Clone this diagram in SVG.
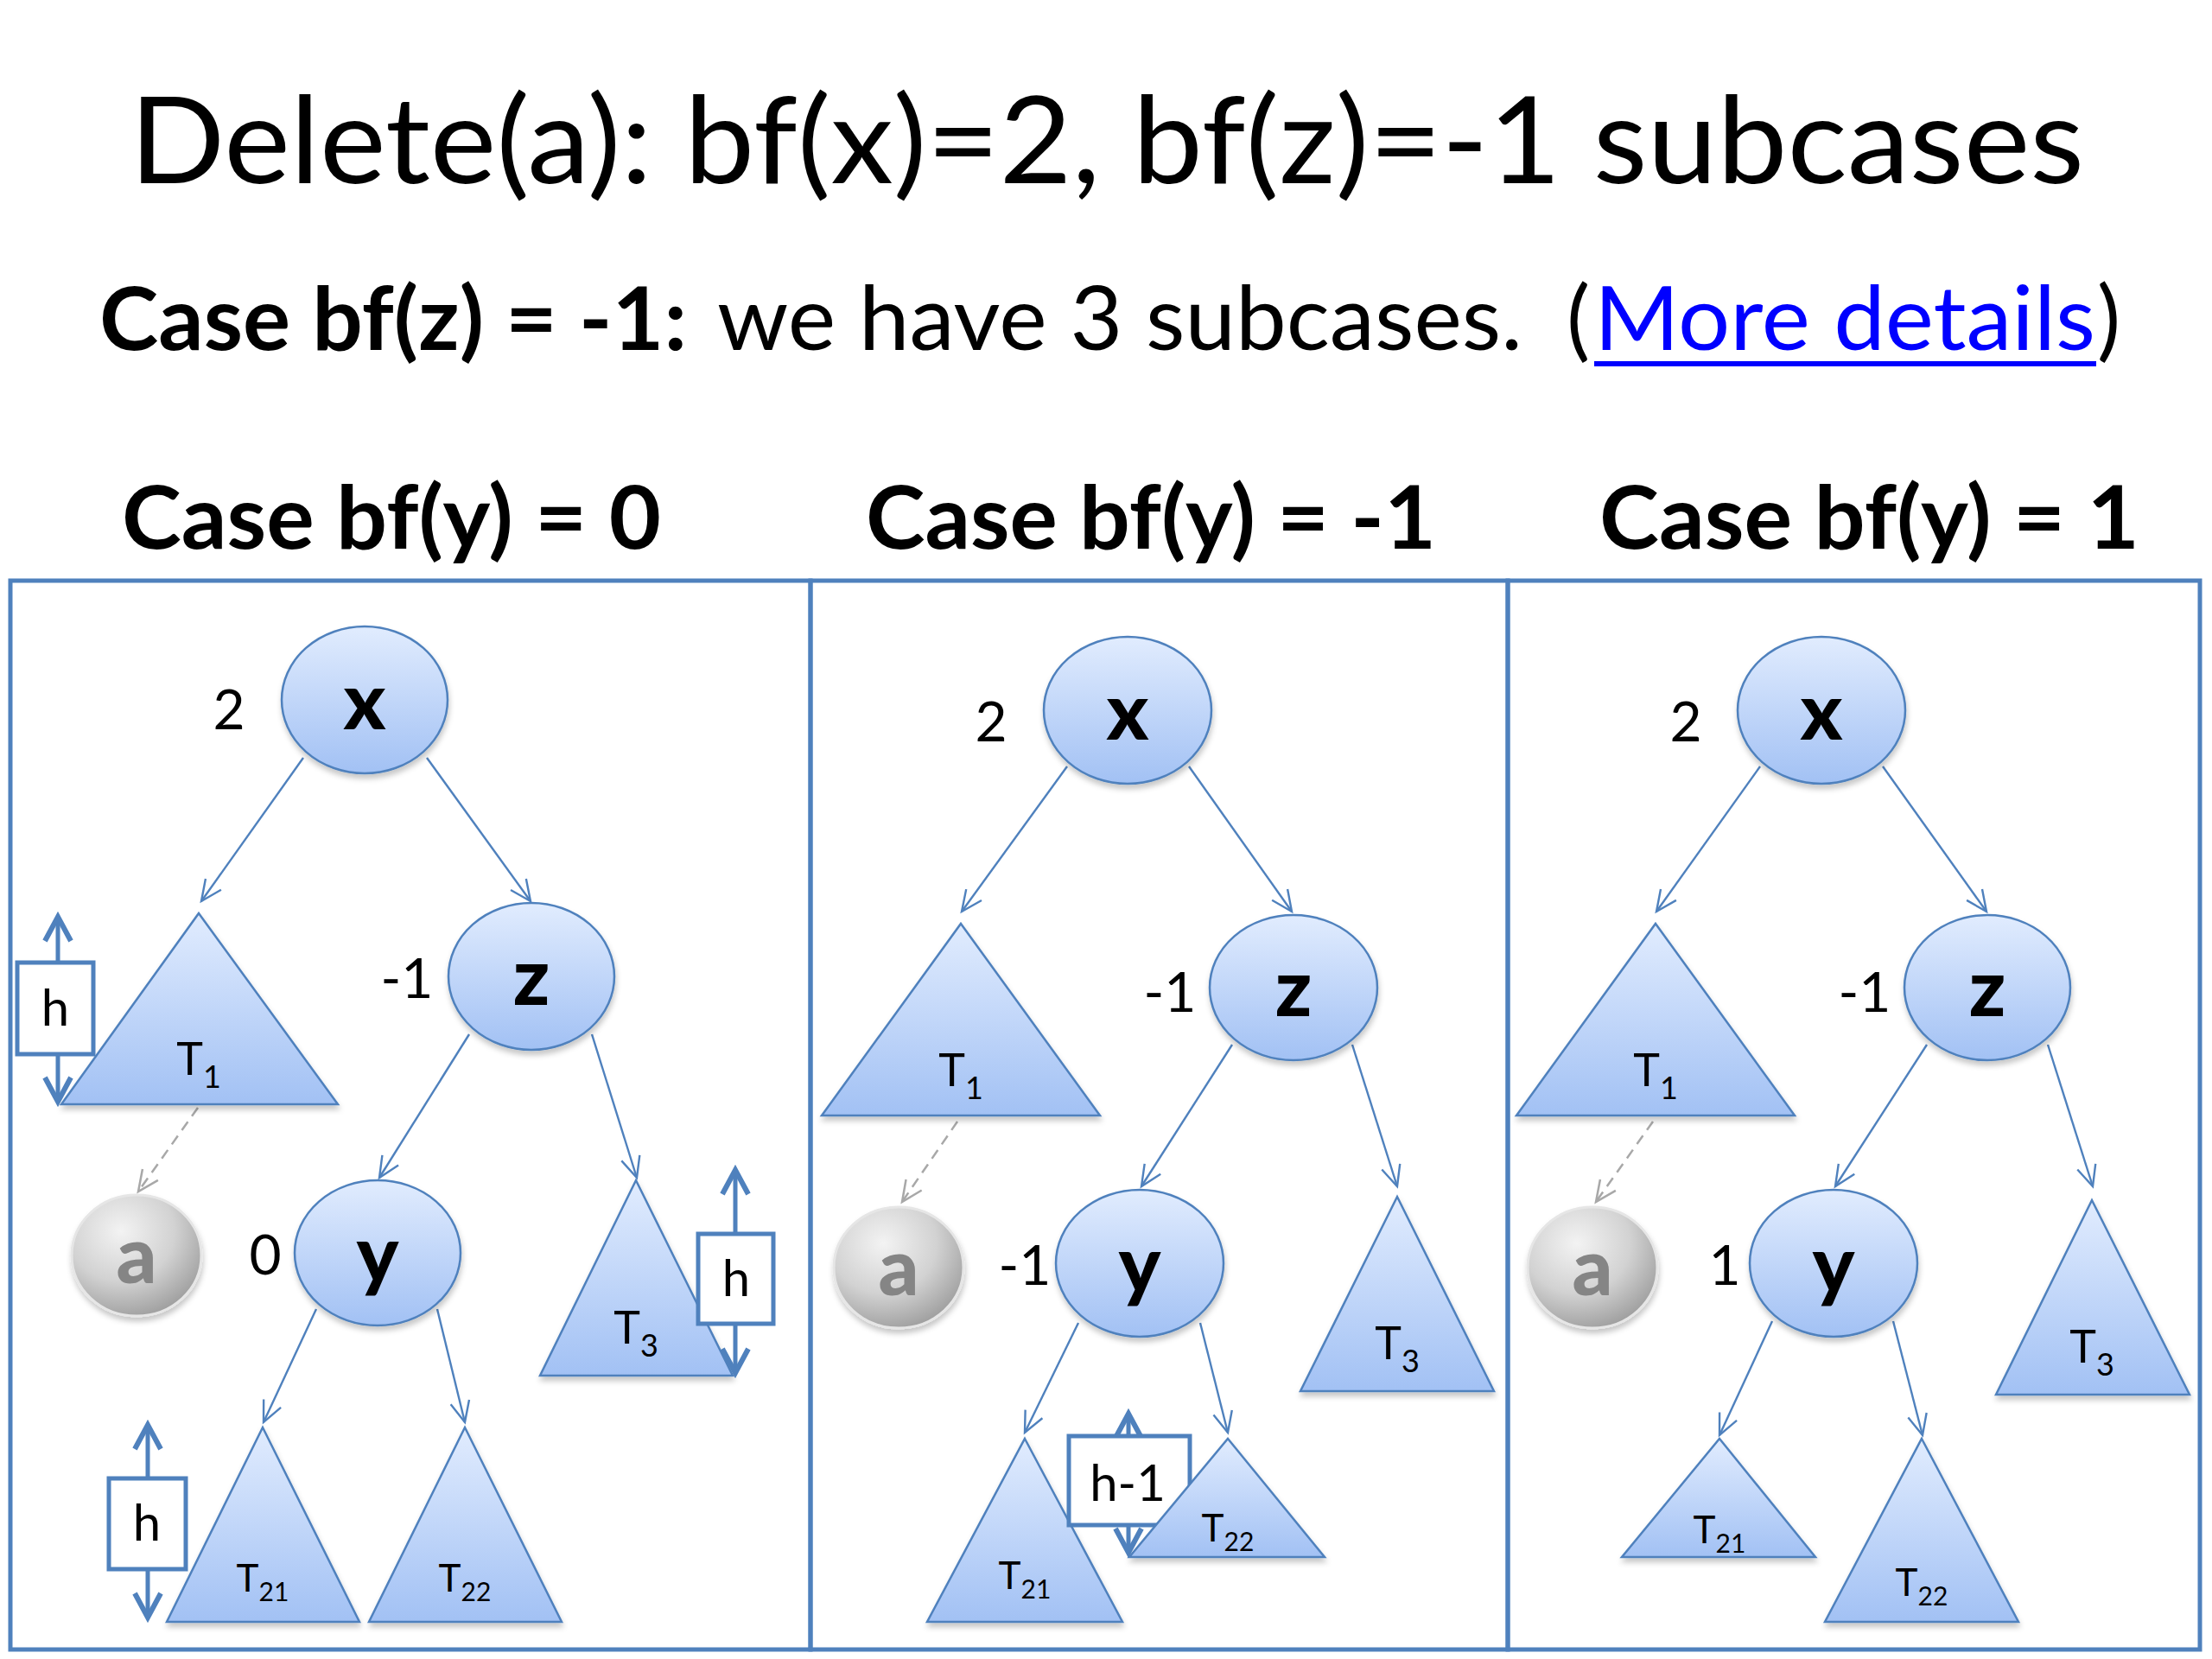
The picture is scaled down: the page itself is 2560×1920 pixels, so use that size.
<svg xmlns="http://www.w3.org/2000/svg" width="2560" height="1920" viewBox="0 0 2560 1920">
<defs>
<style>
text { font-family: Lato, "Open Sans", "Liberation Sans", sans-serif; fill: #000; }
.title { font-size: 140px; }
.sub1 { font-size: 102px; }
.bold { font-weight: bold; }
.hdr { font-size: 102px; font-weight: bold; }
.link { fill: #0000ff; }
.node { fill: url(#gBlue); stroke: #4f81bd; stroke-width: 2.5; filter: url(#shadow); }
.tri { fill: url(#gBlue); stroke: #4f81bd; stroke-width: 2.5; filter: url(#shadow); }
.gray { fill: url(#gGray); stroke: #e6e6e6; stroke-width: 3; filter: url(#shadow); }
.nl { font-size: 92px; font-weight: 900; text-anchor: middle; }
.al { font-size: 92px; font-weight: 900; text-anchor: middle; fill: #858585; }
.bf { font-size: 64px; text-anchor: middle; }
.tl { font-size: 52px; text-anchor: middle; }
.tl .s { font-size: 36px; }
.ts { font-size: 44px; text-anchor: middle; }
.ts .s { font-size: 30px; }
.hl { font-size: 58px; text-anchor: middle; }
.conn { stroke: #4f81bd; stroke-width: 2.4; fill: none; marker-end: url(#arr); }
.dash { stroke: #a8a8a8; stroke-width: 2.5; stroke-dasharray: 12 8; fill: none; marker-end: url(#arrGray); }
.hbox { fill: #fff; stroke: #4f81bd; stroke-width: 5; }
.harr { stroke: #4f81bd; stroke-width: 5; fill: none; marker-start: url(#hA); marker-end: url(#hA); }
.panel { fill: none; stroke: #4f81bd; stroke-width: 5; }
</style>
<linearGradient id="gBlue" x1="0" y1="0" x2="0" y2="1">
<stop offset="0" stop-color="#e1ecfe"/>
<stop offset="1" stop-color="#a2c1f4"/>
</linearGradient>
<radialGradient id="gGray" cx="0.38" cy="0.3" r="0.75">
<stop offset="0" stop-color="#f3f3f3"/>
<stop offset="0.55" stop-color="#d2d2d2"/>
<stop offset="1" stop-color="#9c9c9c"/>
</radialGradient>
<filter id="shadow" x="-20%" y="-20%" width="140%" height="150%">
<feDropShadow dx="1" dy="5" stdDeviation="3" flood-color="#000" flood-opacity="0.22"/>
</filter>
<marker id="arr" markerUnits="userSpaceOnUse" viewBox="-30 -16 34 32" refX="0" refY="0" markerWidth="34" markerHeight="32" orient="auto" overflow="visible">
<path d="M -24,-11 L 0,0 L -24,11" fill="none" stroke="#4f81bd" stroke-width="2.4"/>
</marker>
<marker id="arrGray" markerUnits="userSpaceOnUse" viewBox="-30 -16 34 32" refX="0" refY="0" markerWidth="34" markerHeight="32" orient="auto" overflow="visible">
<path d="M -24,-11 L 0,0 L -24,11" fill="none" stroke="#a8a8a8" stroke-width="2.5"/>
</marker>
<marker id="hA" markerUnits="userSpaceOnUse" viewBox="-40 -22 46 44" refX="0" refY="0" markerWidth="46" markerHeight="44" orient="auto-start-reverse" overflow="visible">
<path d="M -28,-15 L 0,0 L -28,15" fill="none" stroke="#4f81bd" stroke-width="6" stroke-linejoin="miter"/>
</marker>
</defs>
<rect x="0" y="0" width="2560" height="1920" fill="#fff"/>

<g id="title">
<text class="title" x="150" y="212" textLength="2262" lengthAdjust="spacingAndGlyphs">Delete(a): bf(x)=2, bf(z)=-1 subcases</text>
</g>
<g id="subtitle">
<text class="sub1 bold" x="115" y="405" textLength="680" lengthAdjust="spacingAndGlyphs">Case bf(z) = -1:</text>
<text class="sub1" x="830" y="405" textLength="932" lengthAdjust="spacingAndGlyphs">we have 3 subcases.</text>
<text class="sub1" x="1813" y="405">(</text>
<text class="sub1 link" x="1845" y="405" textLength="580" lengthAdjust="spacingAndGlyphs">More details</text>
<line x1="1845" y1="421" x2="2426" y2="421" stroke="#0000ff" stroke-width="6"/>
<text class="sub1" x="2427" y="405">)</text>
</g>
<g id="headers">
<text class="hdr" x="141" y="635" textLength="624" lengthAdjust="spacingAndGlyphs">Case bf(y) = 0</text>
<text class="hdr" x="1002" y="635" textLength="660" lengthAdjust="spacingAndGlyphs">Case bf(y) = -1</text>
<text class="hdr" x="1851" y="635" textLength="625" lengthAdjust="spacingAndGlyphs">Case bf(y) = 1</text>
</g>

<g id="panels">
<rect class="panel" x="12" y="672" width="926" height="1237"/>
<rect class="panel" x="938" y="672" width="807" height="1237"/>
<rect class="panel" x="1745" y="672" width="801" height="1237"/>
</g>

<g id="connectors">
<line class="conn" x1="351" y1="877" x2="233" y2="1043"/>
<line class="conn" x1="494" y1="877" x2="614" y2="1043"/>
<line class="conn" x1="543" y1="1197" x2="439" y2="1363"/>
<line class="conn" x1="685" y1="1197" x2="737" y2="1363"/>
<line class="conn" x1="366" y1="1515" x2="305" y2="1646"/>
<line class="conn" x1="506" y1="1515" x2="538" y2="1646"/>
<line class="dash" x1="229" y1="1282" x2="160" y2="1379"/>

<line class="conn" x1="1235" y1="887" x2="1113" y2="1055"/>
<line class="conn" x1="1376" y1="887" x2="1495" y2="1055"/>
<line class="conn" x1="1426" y1="1209" x2="1321" y2="1373"/>
<line class="conn" x1="1565" y1="1209" x2="1617" y2="1373"/>
<line class="conn" x1="1248" y1="1531" x2="1186" y2="1658"/>
<line class="conn" x1="1389" y1="1531" x2="1421" y2="1658"/>
<line class="dash" x1="1108" y1="1298" x2="1044" y2="1391"/>

<line class="conn" x1="2037" y1="887" x2="1917" y2="1055"/>
<line class="conn" x1="2179" y1="887" x2="2299" y2="1055"/>
<line class="conn" x1="2230" y1="1209" x2="2124" y2="1373"/>
<line class="conn" x1="2370" y1="1209" x2="2422" y2="1373"/>
<line class="conn" x1="2051" y1="1529" x2="1990" y2="1661"/>
<line class="conn" x1="2191" y1="1529" x2="2225" y2="1661"/>
<line class="dash" x1="1913" y1="1298" x2="1847" y2="1391"/>
</g>

<!-- Panel 1 -->
<g id="p1-x"><ellipse class="node" cx="422" cy="810" rx="96" ry="85"/><text class="nl" x="422" y="844">x</text><text class="bf" x="265" y="844">2</text></g>
<g id="p1-z"><ellipse class="node" cx="615" cy="1130" rx="96" ry="85"/><text class="nl" x="615" y="1163">z</text><text class="bf" x="471" y="1155">-1</text></g>
<g id="p1-y"><ellipse class="node" cx="437" cy="1450" rx="96" ry="84"/><text class="nl" x="437" y="1484">y</text><text class="bf" x="307" y="1475">0</text></g>
<g id="p1-a"><ellipse class="gray" cx="158" cy="1453" rx="75" ry="70"/><text class="al" x="158" y="1485">a</text></g>
<g id="p1-T1"><polygon class="tri" points="230,1057 391,1278 71,1278"/><text class="tl" x="230" y="1244">T<tspan class="s" dy="15">1</tspan></text></g>
<g id="p1-h1"><line class="harr" x1="67" y1="1061" x2="67" y2="1275"/><rect class="hbox" x="20" y="1114" width="88" height="106"/><text class="hl" x="64" y="1187">h</text></g>
<g id="p1-T3"><polygon class="tri" points="736,1366 848,1592 625,1592"/><text class="tl" x="736" y="1555">T<tspan class="s" dy="15">3</tspan></text></g>
<g id="p1-h3"><line class="harr" x1="851" y1="1354" x2="851" y2="1589"/><rect class="hbox" x="808" y="1428" width="87" height="104"/><text class="hl" x="852" y="1500">h</text></g>
<g id="p1-T21"><polygon class="tri" points="304,1652 416,1877 193,1877"/><text class="ts" x="304" y="1842">T<tspan class="s" dy="11">21</tspan></text></g>
<g id="p1-T22"><polygon class="tri" points="538,1652 650,1877 427,1877"/><text class="ts" x="538" y="1842">T<tspan class="s" dy="11">22</tspan></text></g>
<g id="p1-h21"><line class="harr" x1="171" y1="1649" x2="171" y2="1872"/><rect class="hbox" x="126" y="1711" width="89" height="105"/><text class="hl" x="170" y="1783">h</text></g>

<!-- Panel 2 -->
<g id="p2-x"><ellipse class="node" cx="1305" cy="822" rx="97" ry="85"/><text class="nl" x="1305" y="856">x</text><text class="bf" x="1147" y="858">2</text></g>
<g id="p2-z"><ellipse class="node" cx="1497" cy="1143" rx="97" ry="84"/><text class="nl" x="1497" y="1176">z</text><text class="bf" x="1354" y="1171">-1</text></g>
<g id="p2-y"><ellipse class="node" cx="1319" cy="1462" rx="97" ry="85"/><text class="nl" x="1319" y="1496">y</text><text class="bf" x="1186" y="1487">-1</text></g>
<g id="p2-a"><ellipse class="gray" cx="1040" cy="1467" rx="75" ry="70"/><text class="al" x="1040" y="1499">a</text></g>
<g id="p2-T1"><polygon class="tri" points="1112,1069 1273,1291 951,1291"/><text class="tl" x="1112" y="1257">T<tspan class="s" dy="15">1</tspan></text></g>
<g id="p2-T3"><polygon class="tri" points="1617,1385 1729,1610 1505,1610"/><text class="tl" x="1617" y="1573">T<tspan class="s" dy="15">3</tspan></text></g>
<g id="p2-T21"><polygon class="tri" points="1186,1665 1299,1877 1073,1877"/><text class="ts" x="1186" y="1839">T<tspan class="s" dy="11">21</tspan></text></g>
<g id="p2-h21"><line class="harr" x1="1306" y1="1636" x2="1306" y2="1797"/><rect class="hbox" x="1237" y="1662" width="140" height="103"/><text class="hl" x="1305" y="1737">h-1</text></g>
<g id="p2-T22"><polygon class="tri" points="1421,1665 1533,1802 1307,1802"/><text class="ts" x="1421" y="1784">T<tspan class="s" dy="11">22</tspan></text></g>

<!-- Panel 3 -->
<g id="p3-x"><ellipse class="node" cx="2108" cy="822" rx="97" ry="85"/><text class="nl" x="2108" y="856">x</text><text class="bf" x="1951" y="858">2</text></g>
<g id="p3-z"><ellipse class="node" cx="2300" cy="1143" rx="96" ry="84"/><text class="nl" x="2300" y="1176">z</text><text class="bf" x="2158" y="1171">-1</text></g>
<g id="p3-y"><ellipse class="node" cx="2122" cy="1462" rx="97" ry="85"/><text class="nl" x="2122" y="1496">y</text><text class="bf" x="1996" y="1487">1</text></g>
<g id="p3-a"><ellipse class="gray" cx="1843" cy="1467" rx="75" ry="70"/><text class="al" x="1843" y="1499">a</text></g>
<g id="p3-T1"><polygon class="tri" points="1916,1069 2077,1291 1755,1291"/><text class="tl" x="1916" y="1257">T<tspan class="s" dy="15">1</tspan></text></g>
<g id="p3-T3"><polygon class="tri" points="2421,1389 2534,1614 2310,1614"/><text class="tl" x="2421" y="1577">T<tspan class="s" dy="15">3</tspan></text></g>
<g id="p3-T21"><polygon class="tri" points="1990,1665 2101,1802 1877,1802"/><text class="ts" x="1990" y="1786">T<tspan class="s" dy="11">21</tspan></text></g>
<g id="p3-T22"><polygon class="tri" points="2224,1665 2336,1877 2112,1877"/><text class="ts" x="2224" y="1847">T<tspan class="s" dy="11">22</tspan></text></g>
</svg>
